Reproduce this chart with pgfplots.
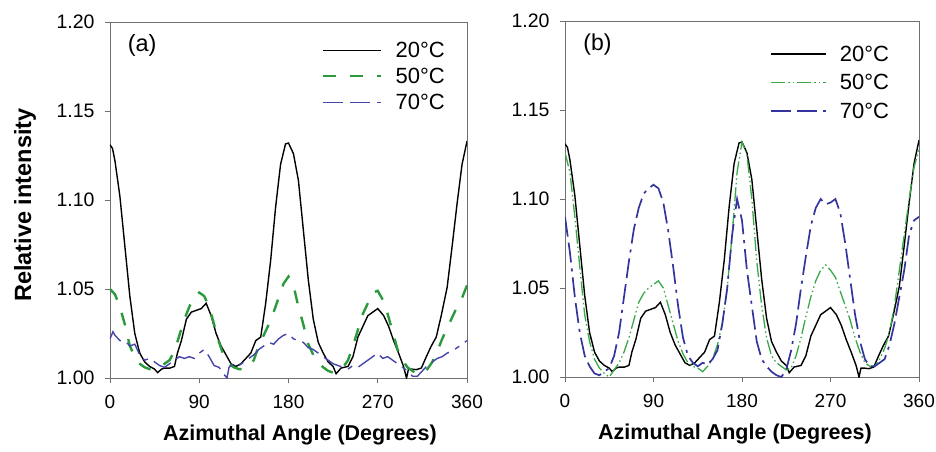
\documentclass[border=0pt]{standalone}
\usepackage{fontspec}
\setmainfont{Liberation Sans}
\usepackage{pgfplots}
\pgfplotsset{compat=1.18}
\definecolor{cgreen}{HTML}{2A9A3C}
\definecolor{cgreenb}{HTML}{3AA84A}
\definecolor{cblue}{HTML}{4545AA}
\definecolor{cblueb}{HTML}{34349E}
\definecolor{frame}{HTML}{707070}

\pgfplotsset{
  panel/.style={
    width=357pt, height=356pt, scale only axis,
    xmin=0, xmax=360, ymin=1, ymax=1.2,
    xtick={0,90,180,270,360}, ytick={1,1.05,1.1,1.15,1.2},
    yticklabel style={/pgf/number format/fixed, /pgf/number format/fixed zerofill, /pgf/number format/precision=2},
    /pgf/number format/assume math mode=true,
    yticklabel style={font=\fontsize{19.5}{22}\selectfont, xshift=-7pt},
    xticklabel style={font=\fontsize{19}{22}\selectfont, yshift=-9pt},
    tick align=outside, major tick length=5pt,
    xtick pos=bottom, ytick pos=left,
    tick style={frame, line width=0.8pt},
    axis line style={frame, line width=0.8pt},
    xlabel={Azimuthal Angle (Degrees)},
    xlabel style={font=\fontsize{21.5}{24}\selectfont\bfseries, anchor=center},
    legend cell align=left,
    legend style={draw=none, fill=none, inner sep=0pt, anchor=north west,
      font=\fontsize{22}{24}\selectfont,
      nodes={inner sep=1pt, text height=15pt, text depth=0pt},
      /tikz/every odd column/.append style={column sep=12pt}},
  },
}

\begin{document}
\begin{tikzpicture}
\useasboundingbox (-110pt,-73pt) rectangle (826pt,378pt);

% ---- panel (a)
\begin{axis}[panel,
  ylabel={Relative intensity},
  ylabel style={font=\fontsize{23.5}{26}\selectfont\bfseries, at={(axis description cs:-0.238,0.486)}, anchor=center},
  xlabel style={at={(axis description cs:0.532,-0.160)}},
  legend style={at={(rel axis cs:0.594,0.945)}, row sep=9pt},
  legend image code/.code={\draw[#1] (0pt,0pt) -- (58pt,0pt);},
]
\addplot[black, line width=1.4pt] coordinates {
(0,1.131)(2.5,1.129)(5,1.122)(10,1.102)(15,1.074)(20,1.046)(25,1.025)(30,1.014)(35,1.009)(40,1.0065)
(45,1.005)(48,1.003)(52,1.005)(55,1.0056)(60,1.0055)(65,1.0065)(68,1.014)(72,1.021)(77,1.033)(82,1.037)
(87,1.038)(92,1.039)(97,1.042)(102,1.035)(107,1.025)(112,1.018)(117,1.013)(122,1.008)(127,1.0065)(132,1.008)
(137,1.011)(142,1.014)(147,1.021)(152,1.023)(157,1.042)(162,1.066)(167,1.096)(172,1.120)(177,1.1315)(180,1.132)
(185,1.126)(190,1.111)(195,1.083)(200,1.055)(205,1.033)(210,1.020)(215,1.014)(220,1.009)(225,1.0065)(228,1.0024)
(233,1.0056)(240,1.0065)(245,1.012)(250,1.023)(255,1.029)(260,1.035)(265,1.037)(270,1.039)(276,1.035)(281,1.029)
(286,1.021)(291,1.014)(296,1.0065)(299,1.000)(301,1.005)(304,1.005)(309,1.0047)(314,1.0056)(319,1.012)(324,1.018)
(329,1.023)(334,1.035)(340,1.051)(345,1.074)(350,1.098)(355,1.120)(360,1.133)};
\addlegendentry{20°C}
\addplot[cgreen, line width=2.4pt, dash pattern=on 13pt off 14pt] coordinates {
(0,1.050)(5,1.047)(10,1.040)(15,1.030)(20,1.018)(25,1.012)(30,1.008)(35,1.006)(40,1.005)(45,1.005)
(50,1.006)(55,1.008)(60,1.010)(65,1.015)(70,1.024)(75,1.033)(80,1.040)(85,1.046)(90,1.048)(95,1.046)
(100,1.040)(105,1.030)(110,1.020)(115,1.012)(120,1.008)(125,1.006)(130,1.005)(135,1.005)(140,1.007)(145,1.010)
(150,1.018)(155,1.024)(160,1.030)(165,1.037)(170,1.045)(175,1.053)(180,1.057)(185,1.052)(190,1.040)(195,1.030)
(200,1.019)(205,1.013)(210,1.009)(215,1.006)(220,1.004)(225,1.003)(230,1.004)(235,1.006)(240,1.010)(245,1.018)
(250,1.027)(255,1.036)(260,1.042)(265,1.048)(270,1.049)(275,1.044)(280,1.036)(285,1.026)(290,1.016)(295,1.010)
(300,1.006)(305,1.004)(310,1.002)(315,1.003)(320,1.005)(325,1.009)(330,1.015)(335,1.022)(340,1.028)(345,1.034)
(350,1.040)(355,1.045)(360,1.052)};
\addlegendentry{50°C}
\addplot[cblue, line width=1.4pt, dash pattern=on 20pt off 7pt on 20pt off 7pt on 5pt off 7pt] coordinates {
(0,1.022)(3,1.026)(5,1.024)(10,1.021)(15,1.021)(20,1.018)(25,1.019)(30,1.013)(35,1.010)(40,1.011)
(45,1.009)(50,1.007)(55,1.006)(60,1.008)(65,1.010)(70,1.012)(75,1.011)(80,1.012)(85,1.011)(90,1.014)
(95,1.016)(100,1.012)(105,1.007)(110,1.006)(115,1.002)(118,1.000)(120,1.006)(125,1.008)(130,1.007)(135,1.009)
(140,1.011)(145,1.013)(150,1.016)(155,1.018)(160,1.020)(165,1.019)(170,1.022)(175,1.024)(180,1.025)(185,1.022)
(190,1.021)(195,1.020)(200,1.017)(205,1.016)(210,1.014)(215,1.012)(220,1.010)(225,1.008)(230,1.007)(235,1.006)
(240,1.005)(245,1.007)(250,1.006)(255,1.008)(260,1.010)(265,1.012)(270,1.014)(275,1.011)(280,1.012)(285,1.010)
(290,1.008)(295,1.006)(300,1.004)(305,1.001)(310,1.001)(315,1.004)(320,1.007)(325,1.009)(330,1.011)(335,1.012)
(340,1.014)(345,1.015)(350,1.017)(355,1.019)(360,1.021)};
\addlegendentry{70°C}
\node[anchor=west, font=\fontsize{23.5}{26}\selectfont] at (rel axis cs:0.04,0.935) {(a)};
\end{axis}

% ---- panel (b)
\begin{axis}[panel, at={(455pt,1pt)}, width=354pt,
  xlabel style={at={(axis description cs:0.480,-0.160)}},
  legend style={at={(rel axis cs:0.579,0.932)}, row sep=11.5pt},
  legend image code/.code={\draw[#1] (0pt,0pt) -- (55pt,0pt);},
]
\addplot[black, line width=1.4pt] coordinates {
(0,1.131)(2.5,1.129)(5,1.122)(10,1.102)(15,1.074)(20,1.046)(25,1.025)(30,1.014)(35,1.009)(40,1.0065)
(45,1.005)(48,1.003)(52,1.005)(55,1.0056)(60,1.0055)(65,1.0065)(68,1.014)(72,1.021)(77,1.033)(82,1.037)
(87,1.038)(92,1.039)(97,1.042)(102,1.035)(107,1.025)(112,1.018)(117,1.013)(122,1.008)(127,1.0065)(132,1.008)
(137,1.011)(142,1.014)(147,1.021)(152,1.023)(157,1.042)(162,1.066)(167,1.096)(172,1.120)(177,1.1315)(180,1.132)
(185,1.126)(190,1.111)(195,1.083)(200,1.055)(205,1.033)(210,1.020)(215,1.014)(220,1.009)(225,1.0065)(228,1.0024)
(233,1.0056)(240,1.0065)(245,1.012)(250,1.023)(255,1.029)(260,1.035)(265,1.037)(270,1.039)(276,1.035)(281,1.029)
(286,1.021)(291,1.014)(296,1.0065)(299,1.000)(301,1.005)(304,1.005)(309,1.0047)(314,1.0056)(319,1.012)(324,1.018)
(329,1.023)(334,1.035)(340,1.051)(345,1.074)(350,1.098)(355,1.120)(360,1.133)};
\addlegendentry{20°C}
\addplot[cgreenb, line width=1.3pt, dash pattern=on 14pt off 3pt on 1.5pt off 3pt on 1.5pt off 3pt] coordinates {
(0,1.126)(5,1.115)(10,1.090)(15,1.062)(20,1.035)(25,1.020)(30,1.010)(35,1.005)(40,1.002)(45,1.000)
(50,1.004)(55,1.008)(60,1.014)(65,1.022)(70,1.032)(75,1.042)(80,1.047)(85,1.050)(90,1.052)(95,1.054)
(100,1.050)(105,1.040)(110,1.030)(115,1.020)(120,1.013)(125,1.008)(130,1.006)(135,1.005)(140,1.003)(145,1.006)
(150,1.010)(155,1.018)(160,1.030)(165,1.050)(170,1.080)(175,1.115)(180,1.132)(185,1.125)(190,1.100)(195,1.065)
(200,1.040)(205,1.022)(210,1.012)(215,1.008)(220,1.006)(225,1.004)(230,1.005)(235,1.012)(240,1.022)(245,1.034)
(250,1.045)(255,1.054)(260,1.060)(265,1.063)(270,1.060)(275,1.056)(280,1.048)(285,1.040)(290,1.032)(295,1.022)
(300,1.014)(305,1.008)(310,1.006)(315,1.006)(320,1.010)(325,1.016)(330,1.025)(335,1.040)(340,1.060)(345,1.080)
(350,1.100)(355,1.118)(360,1.128)};
\addlegendentry{50°C}
\addplot[cblueb, line width=1.7pt, dash pattern=on 20pt off 6pt on 20pt off 6pt on 3pt off 6pt] coordinates {
(0,1.090)(5,1.070)(10,1.045)(15,1.025)(20,1.012)(25,1.006)(30,1.002)(35,1.001)(40,1.003)(45,1.005)
(50,1.012)(55,1.025)(60,1.045)(65,1.065)(70,1.083)(75,1.095)(80,1.103)(85,1.106)(90,1.108)(95,1.106)
(100,1.098)(105,1.082)(110,1.062)(115,1.040)(120,1.022)(125,1.012)(130,1.008)(135,1.006)(140,1.008)(145,1.007)
(150,1.010)(155,1.015)(160,1.030)(165,1.050)(170,1.080)(175,1.100)(180,1.088)(185,1.060)(190,1.040)(195,1.020)
(200,1.010)(205,1.006)(210,1.003)(215,1.001)(220,1.000)(225,1.004)(230,1.015)(235,1.030)(240,1.050)(245,1.068)
(250,1.085)(255,1.095)(260,1.100)(265,1.097)(270,1.098)(275,1.100)(280,1.092)(285,1.075)(290,1.055)(295,1.035)
(300,1.020)(305,1.010)(310,1.006)(315,1.006)(320,1.008)(325,1.010)(330,1.018)(335,1.030)(340,1.045)(345,1.060)
(350,1.080)(355,1.088)(360,1.090)};
\addlegendentry{70°C}
\node[anchor=west, font=\fontsize{23}{26}\selectfont] at (rel axis cs:0.042,0.935) {(b)};
\end{axis}
\end{tikzpicture}
\end{document}
